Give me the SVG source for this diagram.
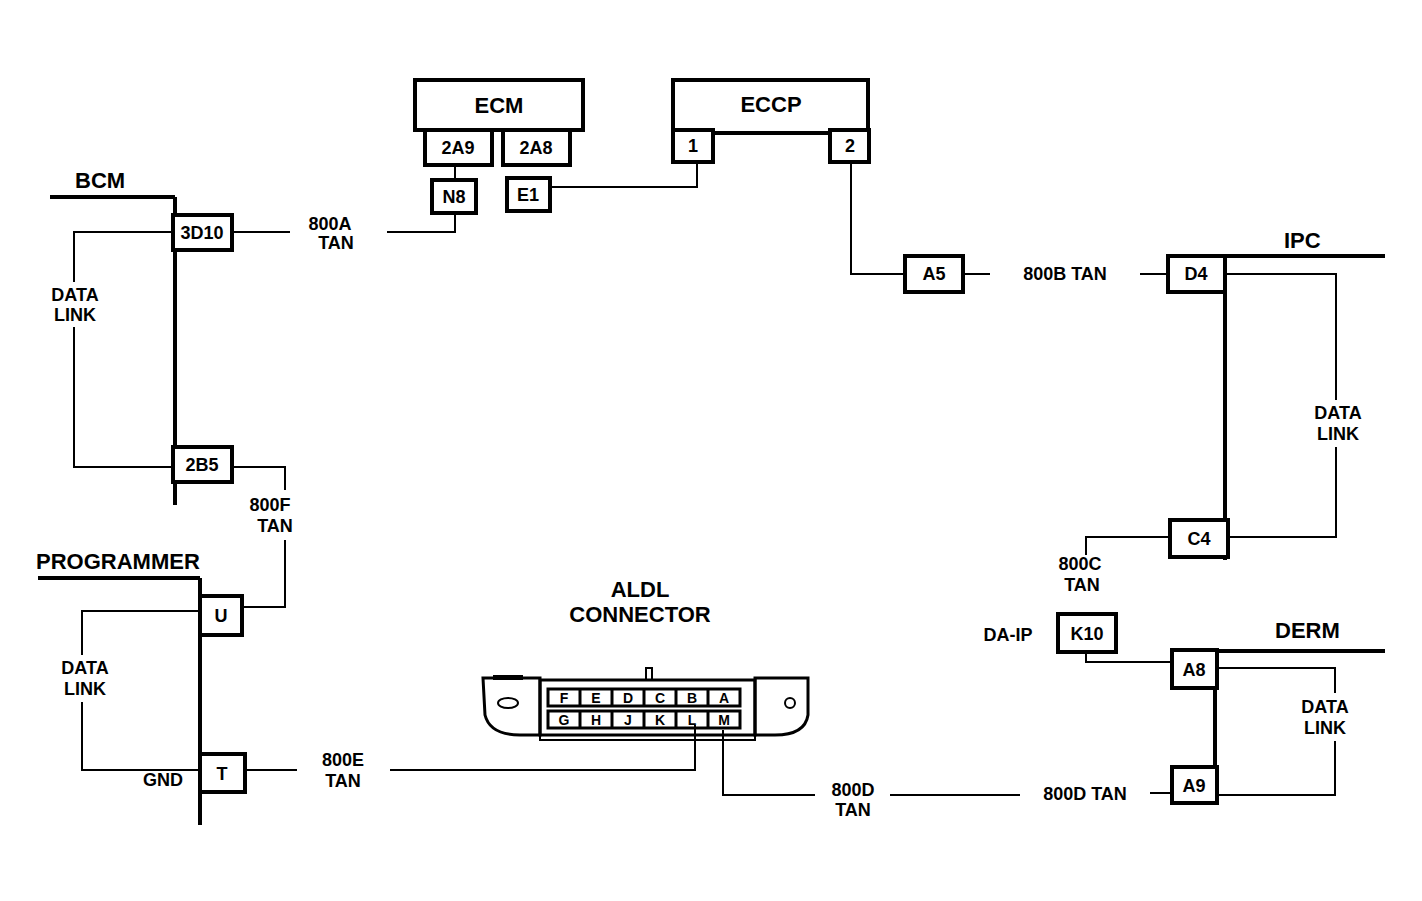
<svg xmlns="http://www.w3.org/2000/svg" width="1422" height="901" viewBox="0 0 1422 901">
<style>
text{font-family:"Liberation Sans",Arial,sans-serif;font-weight:bold;fill:#000}
.t{font-size:22px;text-anchor:middle}
.h{font-size:22px}
.s{font-size:18px;text-anchor:middle}
.p{font-size:14px;text-anchor:middle}
.b{fill:#fff;stroke:#000;stroke-width:4}
.w{fill:none;stroke:#000;stroke-width:2}
.k{fill:none;stroke:#000;stroke-width:4}
</style>
<rect width="1422" height="901" fill="#fff"/>
<g id="connectors">
<path class="k" d="M50 197H175M175 197V505M1225 256H1385M1225 256V560M1215 651H1385M1215 651V803M38 578H200M200 578V825"/>
<path class="w" d="M455 165V180M173 232H74V282M74 327V467H173M232 232H290M387 232H455V212M550 187H697V160M851 162V274H905M963 274H990M1140 274H1168M1225 274H1336V400M1336 447V537H1225M1170 537H1086V555M1086 652V662H1172M1217 668H1335V693M1335 741V795H1217M1172 793H1150M1020 795H890M815 795H723V730M242 611H82V655M82 702V770H200M242 607H285V540M285 490V467H232M245 770H297M390 770H695V725"/>
</g>
<g id="ECM"><rect class="b" x="415" y="80" width="168" height="50"/><text class="t" x="499" y="113">ECM</text></g>
<g id="p2A9"><rect class="b" x="425" y="130" width="67" height="35"/><text class="s" x="458" y="154">2A9</text></g>
<g id="p2A8"><rect class="b" x="503" y="130" width="67" height="35"/><text class="s" x="536" y="154">2A8</text></g>
<g id="N8"><rect class="b" x="432" y="180" width="44" height="33"/><text class="s" x="454" y="203">N8</text></g>
<g id="E1"><rect class="b" x="507" y="178" width="43" height="33"/><text class="s" x="528" y="201">E1</text></g>
<g id="ECCP"><rect class="b" x="673" y="80" width="195" height="53"/><text class="t" x="771" y="112">ECCP</text></g>
<g id="pin1"><rect class="b" x="673" y="130" width="40" height="32"/><text class="s" x="693" y="152">1</text></g>
<g id="pin2"><rect class="b" x="830" y="130" width="39" height="32"/><text class="s" x="850" y="152">2</text></g>
<g id="BCM"><text class="h" x="75" y="188">BCM</text></g>
<g id="p3D10"><rect class="b" x="173" y="215" width="59" height="35"/><text class="s" x="202" y="239">3D10</text></g>
<g id="p2B5"><rect class="b" x="173" y="447" width="59" height="35"/><text class="s" x="202" y="471">2B5</text></g>
<g id="A5"><rect class="b" x="905" y="256" width="58" height="36"/><text class="s" x="934" y="280">A5</text></g>
<g id="IPC"><text class="h" x="1284" y="248">IPC</text></g>
<g id="D4"><rect class="b" x="1168" y="256" width="57" height="36"/><text class="s" x="1196" y="280">D4</text></g>
<g id="C4"><rect class="b" x="1170" y="520" width="58" height="37"/><text class="s" x="1199" y="545">C4</text></g>
<g id="K10"><rect class="b" x="1058" y="614" width="58" height="38"/><text class="s" x="1087" y="640">K10</text></g>
<g id="DERM"><text class="h" x="1275" y="638">DERM</text></g>
<g id="A8"><rect class="b" x="1172" y="650" width="45" height="38"/><text class="s" x="1194" y="676">A8</text></g>
<g id="A9"><rect class="b" x="1172" y="767" width="45" height="36"/><text class="s" x="1194" y="792">A9</text></g>
<g id="PROGRAMMER"><text class="h" x="36" y="569">PROGRAMMER</text></g>
<g id="U"><rect class="b" x="200" y="596" width="42" height="39"/><text class="s" x="221" y="622">U</text></g>
<g id="T"><rect class="b" x="200" y="754" width="45" height="38"/><text class="s" x="222" y="780">T</text></g>
<g id="ALDL">
<text class="t" x="640" y="597">ALDL</text><text class="t" x="640" y="622">CONNECTOR</text>
<path fill="none" stroke="#000" stroke-width="3" d="M483 678H540V735H520Q490 735 485 715ZM808 678H755V735H775Q805 735 808 715Z"/>
<rect x="540" y="680" width="215" height="55" fill="none" stroke="#000" stroke-width="3"/>
<rect x="493" y="675" width="30" height="5" fill="#000"/>
<path class="w" d="M646 680V668H652V680M540 735V740H755V735"/>
<ellipse cx="508" cy="703" rx="10" ry="5" class="w"/><circle cx="790" cy="703" r="5" class="w"/>
<rect x="548" y="689" width="192" height="17" fill="none" stroke="#000" stroke-width="3"/>
<rect x="548" y="711" width="192" height="17" fill="none" stroke="#000" stroke-width="3"/>
<path stroke="#000" stroke-width="3" d="M580 689V706M612 689V706M644 689V706M676 689V706M708 689V706M580 711V728M612 711V728M644 711V728M676 711V728M708 711V728"/>
<text class="p" x="564" y="703">F</text><text class="p" x="596" y="703">E</text><text class="p" x="628" y="703">D</text><text class="p" x="660" y="703">C</text><text class="p" x="692" y="703">B</text><text class="p" x="724" y="703">A</text>
<text class="p" x="564" y="725">G</text><text class="p" x="596" y="725">H</text><text class="p" x="628" y="725">J</text><text class="p" x="660" y="725">K</text><text class="p" x="692" y="725">L</text><text class="p" x="724" y="725">M</text>
</g>
<g id="labels">
<text class="s" x="330" y="230">800A</text><text class="s" x="336" y="249">TAN</text>
<text class="s" x="1065" y="280">800B TAN</text>
<text class="s" x="75" y="301">DATA</text><text class="s" x="75" y="321">LINK</text>
<text class="s" x="1338" y="419">DATA</text><text class="s" x="1338" y="440">LINK</text>
<text class="s" x="1325" y="713">DATA</text><text class="s" x="1325" y="734">LINK</text>
<text class="s" x="85" y="674">DATA</text><text class="s" x="85" y="695">LINK</text>
<text class="s" x="270" y="511">800F</text><text class="s" x="275" y="532">TAN</text>
<text class="s" x="1080" y="570">800C</text><text class="s" x="1082" y="591">TAN</text>
<text class="s" x="1008" y="641">DA-IP</text>
<text class="s" x="163" y="786">GND</text>
<text class="s" x="343" y="766">800E</text><text class="s" x="343" y="787">TAN</text>
<text class="s" x="853" y="796">800D</text><text class="s" x="853" y="816">TAN</text>
<text class="s" x="1085" y="800">800D TAN</text>
</g>
</svg>
